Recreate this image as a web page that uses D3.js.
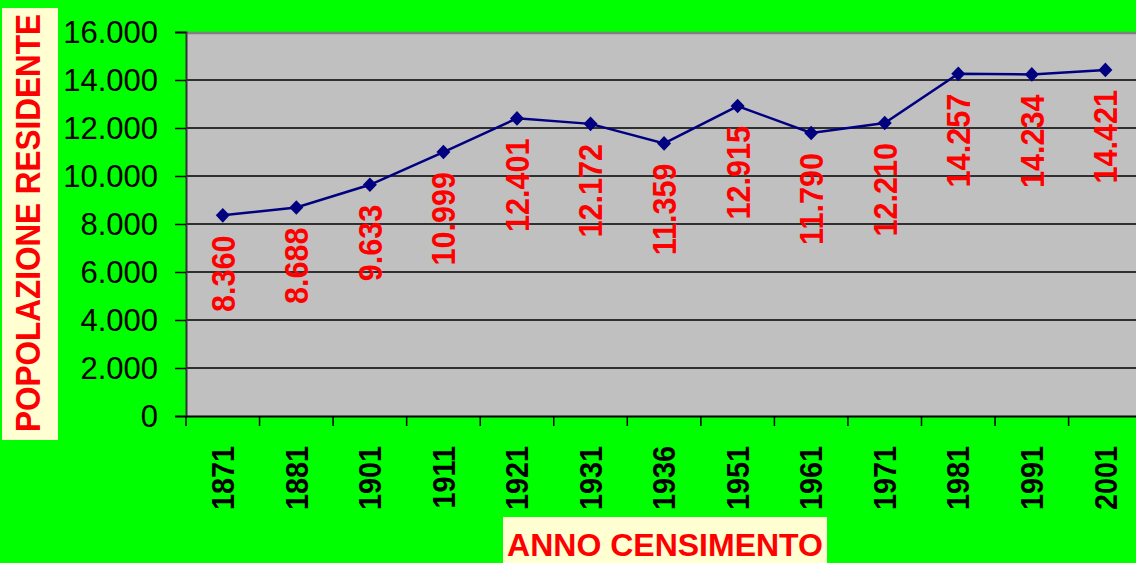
<!DOCTYPE html>
<html><head><meta charset="utf-8">
<script src="https://cdn.jsdelivr.net/npm/d3@7"></script>
<style>
html,body{margin:0;padding:0;background:#00FF00;overflow:hidden}
svg{display:block;font-family:"Liberation Sans",Arial,sans-serif}
</style></head>
<body><svg id="c" width="1136" height="563"></svg>
<script>
const years = ["1871","1881","1901","1911","1921","1931","1936","1951","1961","1971","1981","1991","2001"];
const population = [8360, 8688, 9633, 10999, 12401, 12172, 11359, 12915, 11790, 12210, 14257, 14234, 14421];
const yTicks = [0, 2000, 4000, 6000, 8000, 10000, 12000, 14000, 16000];
const yTitle = "POPOLAZIONE RESIDENTE";
const xTitle = "ANNO CENSIMENTO";

const svg = d3.select("#c");
const W = 1136, H = 563;
svg.append("rect").attr("width", W).attr("height", H).attr("fill", "#00FF00");

const pLeft = 186, pTop = 32, pBottom = 416, band = 73.55;
const pRight = pLeft + band * years.length;

const x = d3.scaleBand().domain(years).range([pLeft, pRight]).padding(0);
const y = d3.scaleLinear().domain([0, 16000]).range([pBottom, pTop]);
const loc = d3.formatLocale({decimal: ",", thousands: ".", grouping: [3], currency: ["", "€"]});
const fmt = loc.format(",d");

// plot area
svg.append("rect").attr("x", pLeft).attr("y", pTop).attr("width", pRight - pLeft).attr("height", pBottom - pTop)
  .attr("fill", "#C0C0C0");
svg.append("line").attr("x1", pLeft).attr("x2", pRight).attr("y1", pTop + 1).attr("y2", pTop + 1)
  .attr("stroke", "#808080").attr("stroke-width", 2.5);

// gridlines
svg.append("g").selectAll("line").data(yTicks.filter(d => d > 0 && d < 16000)).join("line")
  .attr("x1", pLeft).attr("x2", pRight).attr("y1", d => y(d)).attr("y2", d => y(d))
  .attr("stroke", "#000").attr("stroke-width", 1.5);

// y axis
const yAxis = d3.axisLeft(y).tickValues(yTicks).tickSize(11).tickPadding(17).tickFormat(d => fmt(d));
const gy = svg.append("g").attr("transform", `translate(${pLeft},0)`).call(yAxis);
gy.select(".domain").attr("stroke", "#333").attr("stroke-width", 2);
gy.selectAll(".tick line").attr("stroke", "#000").attr("stroke-width", 1.5);
gy.selectAll(".tick text").attr("font-size", 31).attr("fill", "#000")
  .attr("font-family", "'Liberation Sans', Arial, sans-serif").attr("dy", "0.35em");

// x axis
const xAxis = d3.axisBottom(x).tickSize(0).tickFormat("");
const gx = svg.append("g").attr("transform", `translate(0,${pBottom})`).call(xAxis);
gx.select(".domain").attr("stroke", "#000").attr("stroke-width", 2);
svg.append("g").selectAll("line").data(years).join("line")
  .attr("x1", d => x(d)).attr("x2", d => x(d)).attr("y1", pBottom).attr("y2", pBottom + 10)
  .attr("stroke", "#000").attr("stroke-width", 1.5);
svg.append("g").selectAll("text").data(years).join("text")
  .attr("transform", d => `translate(${x(d) + x.bandwidth() / 2},446) rotate(-90) scale(0.9,1)`)
  .attr("text-anchor", "end").attr("dy", "0.35em")
  .attr("font-size", 32).attr("font-weight", "bold").attr("fill", "#000")
  .text(d => d);

// line
const cx = d => x(d) + x.bandwidth() / 2;
const data = years.map((yr, i) => ({yr, v: population[i]}));
svg.append("path").datum(data)
  .attr("d", d3.line().x(d => cx(d.yr)).y(d => y(d.v)))
  .attr("fill", "none").attr("stroke", "#000080").attr("stroke-width", 2.5);
svg.append("g").selectAll("path").data(data).join("path")
  .attr("transform", d => `translate(${cx(d.yr)},${y(d.v)})`)
  .attr("d", "M0,-7.3L7,0L0,7.3L-7,0Z").attr("fill", "#000080");

// data labels
svg.append("g").selectAll("text").data(data).join("text")
  .attr("transform", d => `translate(${cx(d.yr)},${y(d.v) + 20}) rotate(-90) scale(0.9,1)`)
  .attr("text-anchor", "end").attr("dy", "0.35em")
  .attr("font-size", 34).attr("font-weight", "bold").attr("fill", "#FF0000")
  .text(d => fmt(d.v));

// y title
svg.append("rect").attr("x", 2).attr("y", 8).attr("width", 56).attr("height", 432).attr("fill", "#FFFFD2");
svg.append("text").attr("transform", "translate(27.5,223) rotate(-90) scale(0.9,1)")
  .attr("text-anchor", "middle").attr("dy", "0.35em")
  .attr("font-size", 35).attr("font-weight", "bold").attr("fill", "#FF0000").text(yTitle);

// x title
svg.append("rect").attr("x", 503).attr("y", 517).attr("width", 324).attr("height", 50).attr("fill", "#FFFFD2");
svg.append("text").attr("x", 665).attr("y", 556).attr("text-anchor", "middle")
  .attr("font-size", 32).attr("font-weight", "bold").attr("fill", "#FF0000").text(xTitle);
</script></body></html>
